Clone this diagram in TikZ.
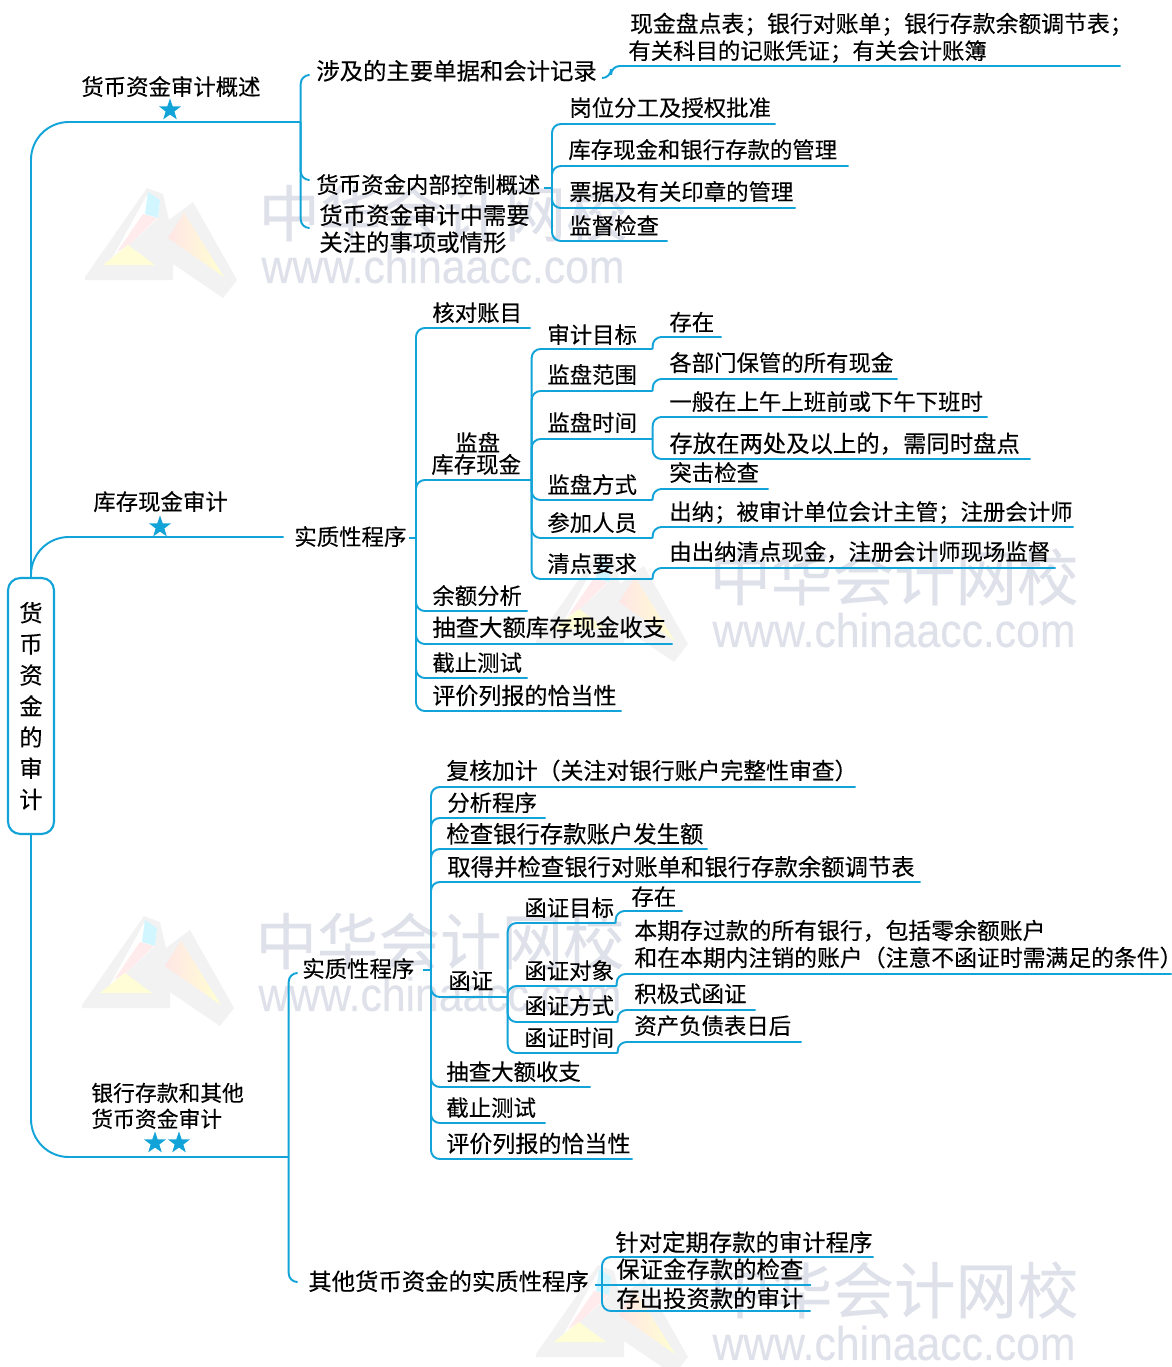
\documentclass[tikz,border=0pt]{standalone}
\usepackage{xcolor}
\usepackage{fontspec}
\usetikzlibrary{shapes.geometric}
\setmainfont[FakeBold=0.25]{Noto Sans CJK SC}
\newfontfamily\wmlatin[FakeStretch=0.9,FakeBold=0.3]{Liberation Sans}
\definecolor{lnblue}{HTML}{12A3D8}
\definecolor{wmgray}{HTML}{DEE1E9}
\tikzset{
	txtfont/.style={font=\fontsize{12.75}{15.4}\selectfont},
	wide/.style={font=\fontsize{13.3}{15.4}\selectfont},
	leaf/.style={txtfont,anchor=south west,inner sep=0pt,align=left,text depth=3pt},
	tw/.style={text width=#1*0.02cm},
	gap/.style={text depth=#1*0.02cm},
	branch/.style={draw=lnblue,line width=1.1pt,rounded corners=5pt},
	trunk/.style={draw=lnblue,line width=1.1pt,rounded corners=21.5pt},
	rootbox/.style={txtfont,draw=lnblue,line width=1.2pt,rounded corners=7pt,align=center,inner sep=0pt,
		minimum width=0.92cm,minimum height=5.12cm,font=\fontsize{13.2}{17.7}\selectfont},
	starmark/.style={star,star points=5,star point ratio=2.5,fill=lnblue,inner sep=0pt,minimum size=0.46cm},
	wmark/.pic={
		\fill [white!90!gray] (0,97) -- (62,8) -- (78,14) -- (84,40) -- (108,22) -- (152,100) -- (138,118) -- (88,84) -- (88,100) -- (0,100) -- cycle;
		\fill [white] (62,15) -- (75,20) -- (73,38) -- (43,66) -- (25,82) -- cycle;
		\fill [blue!20!cyan!18] (63,12) -- (75,20) -- (73,38) -- (60,34) -- cycle;
		\fill [red!8] (58,34) -- (72,38) -- (45,64) -- (32,72) -- cycle;
		\fill [yellow!16] (18,85) -- (70,85) -- (43,65) -- cycle;
		\shade [left color=red!10,right color=yellow!18] (99,33) -- (83,58) -- (139,97) -- cycle;
		\node [font=\fontsize{35}{35}\selectfont,text=wmgray,inner sep=0pt] (zh) at (358,33) {中华会计网校};
		\node [font=\wmlatin\fontsize{27}{28}\selectfont,text=wmgray,inner sep=0pt] (www) at (358,86) {www.chinaacc.com};
	}
}
\begin{document}
\begin{tikzpicture}[x=0.02cm,y=-0.02cm]
	\useasboundingbox (0,0) rectangle (1171,1367);
	\pic (wa) at (85,180) {wmark};
	\pic (wb) at (536,544) {wmark};
	\pic (wc) at (82,908) {wmark};
	\pic (wd) at (536,1257) {wmark};

	\node [rootbox] (root) at (31,706) {货\\币\\资\\金\\的\\审\\计};

	\node [leaf,tw=219,gap=26.5] (gaishu) at (81,122) {货币资金审计概述};
	\node [starmark] (stara) at (170,110) {};
	\node [leaf,tw=190,gap=26.5] (kucun) at (93,537) {库存现金审计};
	\node [starmark] (starb) at (160,527) {};
	\node [leaf,font=\fontsize{12.4}{14.8}\selectfont,tw=197,gap=55.5] (yinhang) at (91,1157) {银行存款和其他\\货币资金审计};
	\node [starmark] (starc) at (155,1143) {};
	\node [starmark] (stard) at (179,1143) {};

	\node [leaf,wide,tw=286,gap=0] (danju) at (316,80) {涉及的主要单据和会计记录};
	\node [leaf,tw=492,gap=33.5] (jilu) at (628,66) {\hspace*{1pt}{\fontsize{13}{15.4}\selectfont 现金盘点表；银行对账单；银行存款余额调节表；}\\有关科目的记账凭证；有关会计账簿};
	\node [leaf,tw=227,gap=2] (kongzhi) at (316,195.5) {货币资金内部控制概述};
	\node [leaf,wide,gap=2] (guanzhu) at (319,253.5) {货币资金审计中需要\\关注的事项或情形};
	\node [leaf,tw=206,gap=7.5] (gangwei) at (569,124) {岗位分工及授权批准};
	\node [leaf,tw=280,gap=7.5] (cunkuan) at (568,166) {库存现金和银行存款的管理};
	\node [leaf,tw=226,gap=7.5] (piaoju) at (569,208) {票据及有关印章的管理};
	\node [leaf,tw=98,gap=6.5] (jiandu) at (569,241) {监督检查};

	\coordinate (danjus) at (308,75);
	\coordinate (danjur) at (602,78);
	\coordinate (kongzhis) at (308,180);
	\coordinate (guanzhus) at (308,228);
	\coordinate (kongzhij) at (552,188);

	\node [leaf,tw=114,gap=2] (shizhia) at (294,547.5) {实质性程序};
	\coordinate (shizhiaj) at (416,538);
	\node [leaf,tw=98,gap=6.5] (hedui) at (432,328) {核对账目};
	\node [leaf,tw=100,gap=28.5] (jianpan) at (431,480) {\hspace*{13.6pt}监盘\\[-3pt]库存现金};
	\node [leaf,tw=95,gap=6.5] (yue) at (432,611) {余额分析};
	\node [leaf,wide,tw=240,gap=7.5] (choucha) at (432,644) {抽查大额库存现金收支};
	\node [leaf,tw=95,gap=6.5] (jiezhi) at (432,678) {截止测试};
	\node [leaf,font=\fontsize{13.1}{15.4}\selectfont,tw=189,gap=6.5] (pingjia) at (432,711) {评价列报的恰当性};

	\node [leaf,tw=105,gap=5.5] (mubiao) at (547,349) {审计目标};
	\node [leaf,tw=105,gap=7.5] (fanwei) at (547,391) {监盘范围};
	\node [leaf,tw=105,gap=7.5] (shijian) at (547,439) {监盘时间};
	\node [leaf,tw=105,gap=6.5] (fangshi) at (547,500) {监盘方式};
	\node [leaf,tw=105,gap=6.5] (canjia) at (547,538) {参加人员};
	\node [leaf,tw=105,gap=6.5] (qingdian) at (547,579) {清点要求};

	\node [leaf,tw=52,gap=6] (cunzai) at (669,337) {存在};
	\node [leaf,tw=228,gap=7.5] (bumen) at (669,379) {各部门保管的所有现金};
	\node [leaf,tw=318,gap=6.5] (yiban) at (669,417) {一般在上午上班前或下午下班时};
	\node [leaf,wide,tw=361,gap=6.5] (cunfang) at (669,459) {存放在两处及以上的，需同时盘点};
	\node [leaf,tw=99,gap=7.5] (tuji) at (669,489) {突击检查};
	\node [leaf,tw=404,gap=6.5] (chuna) at (669,527) {出纳；被审计单位会计主管；注册会计师};
	\node [leaf,tw=386,gap=7.5] (youchu) at (669,568) {由出纳清点现金，注册会计师现场监督};

	\node [leaf,tw=120,gap=2] (shizhib) at (302,979.5) {实质性程序};
	\coordinate (shizhibs) at (297,973);
	\coordinate (shizhibj) at (431,970);
	\node [leaf,wide,tw=286,gap=2] (qita) at (308,1292.5) {其他货币资金的实质性程序};
	\coordinate (qitas) at (297,1282);
	\coordinate (qitaj) at (602,1285);

	\node [leaf,tw=409,font=\fontsize{13}{15.4}\selectfont,gap=7.5] (fuhe) at (446,787) {复核加计（关注对银行账户完整性审查）};
	\node [leaf,tw=98,gap=6.5] (fenxi) at (447,818) {分析程序};
	\node [leaf,wide,tw=261,gap=6] (jiancha) at (446,849) {检查银行存款账户发生额};
	\node [leaf,wide,tw=473,gap=6] (qude) at (447,882) {取得并检查银行对账单和银行存款余额调节表};
	\node [leaf,tw=59,gap=7.5] (hanzheng) at (448,997) {函证};
	\node [leaf,tw=144,gap=6.5] (chouchab) at (446,1087) {抽查大额收支};
	\node [leaf,tw=99,gap=6.5] (jiezhib) at (446,1123) {截止测试};
	\node [leaf,font=\fontsize{13.1}{15.4}\selectfont,tw=186,gap=6.5] (pingjiab) at (446,1159) {评价列报的恰当性};

	\node [leaf,tw=91,gap=6.5] (hzmubiao) at (524,923) {函证目标};
	\node [leaf,tw=92,gap=6.5] (hzduixiang) at (524,986) {函证对象};
	\node [leaf,tw=93,gap=7.5] (hzfangshi) at (524,1022) {函证方式};
	\node [leaf,tw=93,gap=6.5] (hzshijian) at (524,1053) {函证时间};

	\node [leaf,tw=51,gap=5.5] (hzcunzai) at (631,911) {存在};
	\node [leaf,font=\fontsize{13}{15.4}\selectfont,tw=537,gap=34.5] (benqi) at (634,974) {本期存过款的所有银行，包括零余额账户\\和在本期内注销的账户（注意不函证时需满足的条件）\kern-6.5pt};
	\node [leaf,tw=121,gap=7.5] (jiji) at (634,1010) {积极式函证};
	\node [leaf,tw=167,gap=7.5] (zichan) at (634,1042) {资产负债表日后};

	\node [leaf,wide,tw=258,gap=5.5] (dingqi) at (615,1257) {针对定期存款的审计程序};
	\node [leaf,wide,tw=194,gap=6.5] (baozheng) at (616,1285) {保证金存款的检查};
	\node [leaf,wide,tw=194,gap=3.5] (touzi) at (616,1311) {存出投资款的审计};

	\draw [trunk] (root.north) |- (gaishu.south east);
	\draw [trunk] (root.north) |- (kucun.south east);
	\draw [trunk] (root.south) |- (yinhang.south east);

	\draw [branch] (gaishu.south east) |- (danjus);
	\draw [branch] (gaishu.south east) |- (kongzhis);
	\draw [branch] (gaishu.south east) |- (guanzhus);
	\draw [branch] (danjur) -- ++(9,0) |- (jilu.south east);
	\draw [branch] (kongzhi.east |- kongzhij) -- (kongzhij);
	\draw [branch] (kongzhij) |- (gangwei.south east);
	\draw [branch] (kongzhij) |- (cunkuan.south east);
	\draw [branch] (kongzhij) |- (piaoju.south east);
	\draw [branch] (kongzhij) |- (jiandu.south east);

	\draw [branch] (shizhia.east |- shizhiaj) -- (shizhiaj);
	\draw [branch] (shizhiaj) |- (hedui.south east);
	\draw [branch] (shizhiaj) |- (jianpan.south east);
	\draw [branch] (shizhiaj) |- (yue.south east);
	\draw [branch] (shizhiaj) |- (choucha.south east);
	\draw [branch] (shizhiaj) |- (jiezhi.south east);
	\draw [branch] (shizhiaj) |- (pingjia.south east);

	\draw [branch] (jianpan.south east) |- (mubiao.south east);
	\draw [branch] (jianpan.south east) |- (fanwei.south east);
	\draw [branch] (jianpan.south east) |- (shijian.south east);
	\draw [branch] (jianpan.south east) |- (fangshi.south east);
	\draw [branch] (jianpan.south east) |- (canjia.south east);
	\draw [branch] (jianpan.south east) |- (qingdian.south east);

	\draw [branch] (mubiao.south east) |- (cunzai.south east);
	\draw [branch] (fanwei.south east) |- (bumen.south east);
	\draw [branch] (shijian.south east) |- (yiban.south east);
	\draw [branch] (shijian.south east) |- (cunfang.south east);
	\draw [branch] (fangshi.south east) |- (tuji.south east);
	\draw [branch] (canjia.south east) |- (chuna.south east);
	\draw [branch] (qingdian.south east) |- (youchu.south east);

	\draw [branch] (yinhang.south east) |- (shizhibs);
	\draw [branch] (yinhang.south east) |- (qitas);
	\draw [branch] (shizhib.east |- shizhibj) -- (shizhibj);
	\draw [branch] (shizhibj) |- (fuhe.south east);
	\draw [branch] (shizhibj) |- (fenxi.south east);
	\draw [branch] (shizhibj) |- (jiancha.south east);
	\draw [branch] (shizhibj) |- (qude.south east);
	\draw [branch] (shizhibj) |- (hanzheng.south east);
	\draw [branch] (shizhibj) |- (chouchab.south east);
	\draw [branch] (shizhibj) |- (jiezhib.south east);
	\draw [branch] (shizhibj) |- (pingjiab.south east);

	\draw [branch] (hanzheng.south east) |- (hzmubiao.south east);
	\draw [branch] (hanzheng.south east) |- (hzduixiang.south east);
	\draw [branch] (hanzheng.south east) |- (hzfangshi.south east);
	\draw [branch] (hanzheng.south east) |- (hzshijian.south east);
	\draw [branch] (hzmubiao.south east) |- (hzcunzai.south east);
	\draw [branch] (hzduixiang.south east) |- (benqi.south east);
	\draw [branch] (hzfangshi.south east) |- (jiji.south east);
	\draw [branch] (hzshijian.south east) |- (zichan.south east);

	\draw [branch] (qita.east |- qitaj) -- (qitaj);
	\draw [branch] (qitaj) |- (dingqi.south east);
	\draw [branch] (qitaj) -- (baozheng.south east);
	\draw [branch] (qitaj) |- (touzi.south east);
\end{tikzpicture}
\end{document}
